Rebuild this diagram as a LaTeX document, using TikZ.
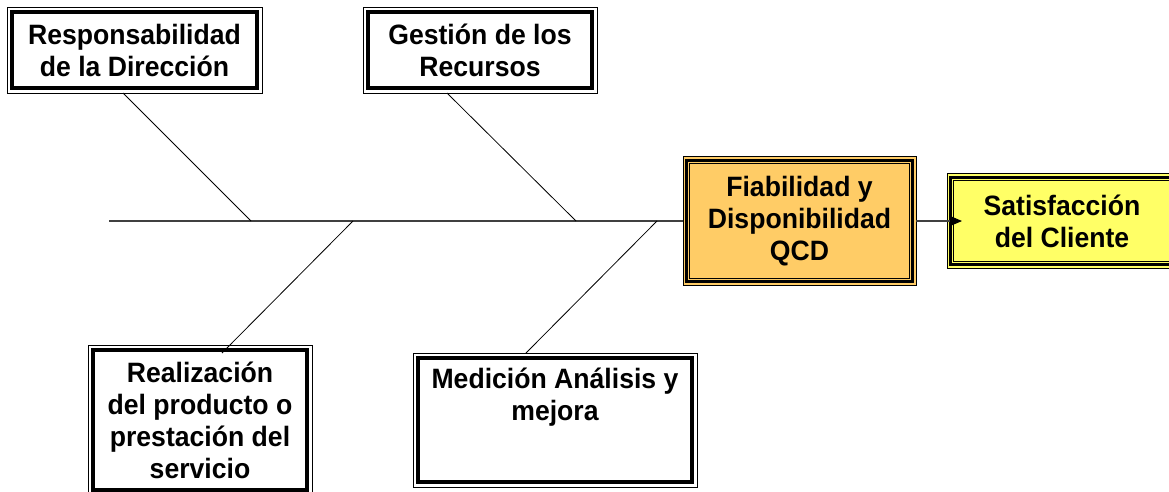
\documentclass[tikz,border=0pt]{standalone}
\usepackage{fontspec}
\setmainfont{Liberation Sans}[FakeStretch=0.95]
\usetikzlibrary{arrows.meta}
\definecolor{orangefill}{HTML}{FFCC66}
\definecolor{yellowfill}{HTML}{FFFF66}
\tikzset{
  txt/.style={font=\bfseries\fontsize{28}{32}\selectfont, align=center, inner sep=0pt},
  wbox/.style={rectangle, inner sep=0pt, outer sep=0pt, draw=black, line width=0.9pt, fill=white,
    txt,
    path picture={\draw[line width=4pt] ([shift={(5pt,-5pt)}]path picture bounding box.north west) rectangle ([shift={(-5pt,5pt)}]path picture bounding box.south east);}},
  cbox/.style={rectangle, inner sep=0pt, outer sep=0pt, draw=black, line width=1pt, fill=#1,
    txt,
    path picture={
      \draw[line width=2.7pt] ([shift={(3.7pt,-3.7pt)}]path picture bounding box.north west) rectangle ([shift={(-3.7pt,3.7pt)}]path picture bounding box.south east);
      \draw[line width=1pt] ([shift={(6.8pt,-6.8pt)}]path picture bounding box.north west) rectangle ([shift={(-6.8pt,6.8pt)}]path picture bounding box.south east);}},
  bone/.style={draw=black, line width=0.8pt},
  spine/.style={draw=black!75, line width=1.1pt},
  arrowline/.style={spine, -{Triangle[length=12pt,width=10pt,color=black,fill=black]}}
}
\begin{document}
\begin{tikzpicture}[x=1pt,y=-1pt]
\useasboundingbox (0,0) rectangle (1169,491);
% boxes
\node[wbox, minimum width=255pt, minimum height=86pt] (resp) at (134.5,50) {Responsabilidad\\de la Dirección};
\node[wbox, minimum width=234pt, minimum height=86pt] (gest) at (480,50) {Gestión de los\\Recursos};
\node[cbox=orangefill, minimum width=233pt, minimum height=129pt] (fiab) at (799.5,221) {Fiabilidad y\\Disponibilidad\\QCD};
\node[cbox=yellowfill, minimum width=230pt, minimum height=95pt] (sat) at (1062,221) {Satisfacción\\del Cliente};
\node[wbox, minimum width=224pt, minimum height=150pt] (real) at (200,420) {Realización\\del producto o\\prestación del\\servicio};
\node[wbox, minimum width=284pt, minimum height=134pt] (med) at (555,420) {};
\node[txt] (medtext) at (555,397.5) {Medición Análisis y\\mejora};
% spine
\coordinate (tail) at (109,221);
\coordinate (j1) at (251,221);
\coordinate (j2) at (576,221);
\coordinate (j3) at (353,221);
\coordinate (j4) at (657,221);
\draw[spine] (tail) -- (fiab.west);
\draw[arrowline] (fiab.east) -- ([xshift=15pt]sat.west);
% bones
\draw[bone] ([xshift=-11.5pt]resp.south) -- (j1);
\draw[bone] ([xshift=-33pt]gest.south) -- (j2);
\draw[bone] (j3) -- ([shift={(22pt,-8pt)}]real.north);
\draw[bone] (j4) -- ([xshift=-29pt]med.north);
\end{tikzpicture}
\end{document}
